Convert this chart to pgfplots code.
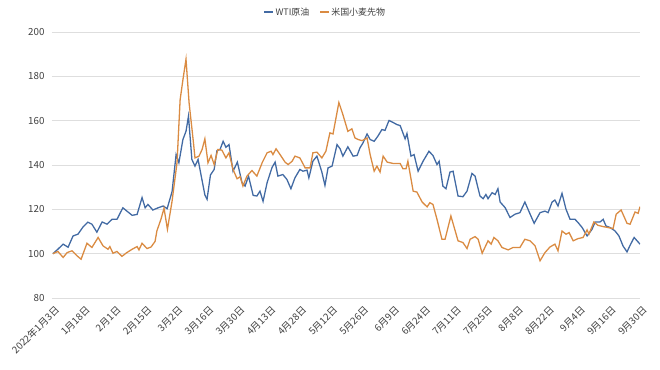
\documentclass[border=0pt]{standalone}
\usepackage{pgfplots}
\pgfplotsset{compat=1.18}
\usepackage{fontspec}
\setmainfont{Noto Sans CJK JP}
\definecolor{wti}{RGB}{66,106,163}
\definecolor{wheat}{RGB}{218,139,66}
\definecolor{lbl}{RGB}{64,64,64}
\definecolor{grd}{RGB}{222,222,222}
\begin{document}
\begin{tikzpicture}
\useasboundingbox (-52bp,-72bp) rectangle (608bp,298bp);
\begin{axis}[
  at={(0,0)}, anchor=south west,
  width=588bp, height=266bp, scale only axis,
  xmin=0, xmax=190, ymin=80, ymax=200,
  ytick={80,100,...,200},
  xtick={0,10,...,190},
  xticklabels={2022年1月3日,1月18日,2月1日,2月15日,3月2日,3月16日,3月30日,4月13日,4月28日,5月12日,5月26日,6月9日,6月24日,7月11日,7月25日,8月8日,8月22日,9月4日,9月16日,9月30日},
  x tick label style={rotate=45, anchor=north east, font=\fontsize{9.8}{11}\selectfont, text=lbl, yshift=-3bp},
  y tick label style={font=\fontsize{9.8}{11}\selectfont, text=lbl, xshift=-4bp},
  /pgf/number format/assume math mode=true,
  axis line style={draw=none},
  major tick style={draw=none},
  ymajorgrids, grid style={grd, line width=0.8pt},
  legend style={at={(0.465,1.075)}, anchor=center, draw=none, fill=none, font=\fontsize{9}{10}\selectfont, text=lbl, legend columns=2, /tikz/every even column/.append style={column sep=8bp}},
  legend image code/.code={\draw[#1, line width=1.4pt] (0,0) -- (0.3cm,0);},
]
\addplot[wti, line width=1.3pt] coordinates {
(0.3,100)(1.9,102)(3.6,104.3)(5.2,102.9)(6.8,108)(8.4,108.8)(10.0,112)(11.6,114.2)(12.9,113.3)(14.5,109.7)
(16.2,114.3)(17.8,113.3)(19.4,115.5)(21.0,115.5)(22.9,120.7)(24.2,119.2)(25.9,117.3)(27.5,117.7)(29.1,125.3)(30.1,120.7)
(31.0,122.2)(32.6,119.7)(34.3,120.7)(35.9,121.5)(37.2,120.3)(38.8,128)(40.1,144.7)(41.0,141)(42.3,151.5)(43.3,155.2)
(44.1,162)(45.2,142.5)(46.2,139.5)(47.2,142.5)(48.5,133)(49.4,126.5)(50.1,124.5)(51.2,135.5)(52.4,138)(53.3,146.5)
(54.3,147)(55.3,150.7)(56.2,148)(57.2,149.2)(58.5,137.2)(59.9,141.3)(61.4,132)(62.4,130.5)(63.5,135)(65.0,126.3)
(66.2,126)(67.2,128.2)(68.2,123.6)(69.5,132)(71.1,138.9)(72.1,141.3)(73.0,135)(74.6,135.7)(75.9,133.5)(77.2,129.3)
(78.5,134.2)(80.1,138)(81.1,137.2)(82.4,137.7)(83.0,134.2)(84.3,141.7)(85.6,144)(87.2,136.8)(88.2,130.8)(89.2,138.7)
(90.5,139.5)(92.1,149.2)(93.1,147.3)(94.0,144)(95.6,148.2)(97.3,144)(98.6,144.3)(99.5,147.7)(100.5,150)(101.8,154)
(102.8,151.5)(104.1,150.7)(105.3,153)(106.6,156)(107.6,155.6)(108.9,160.1)(110.2,159.2)(111.5,158.2)(112.5,157.8)(114.1,151.8)
(114.7,154.2)(116.0,144)(117.0,144.7)(118.3,137.2)(119.9,141.7)(121.8,146.2)(123.1,144.3)(124.4,140.2)(125.1,141.7)(126.3,130.5)
(127.3,129.3)(128.6,136.8)(129.6,137.2)(131.2,126)(132.8,125.7)(134.1,128.2)(135.7,136.2)(136.7,135)(138.3,126)(139.3,124.8)
(140.2,126.7)(140.9,124.8)(142.2,127.5)(143.2,126.7)(144.1,129.3)(144.8,123.3)(146.4,120.8)(148.0,116.3)(149.6,117.8)(151.2,118.5)
(152.8,123.3)(154.5,117.8)(155.8,113.7)(157.7,118.5)(159.3,119.2)(160.3,118.5)(161.6,123.3)(162.5,124.2)(163.5,121.5)(164.8,127.2)
(166.1,120)(167.4,115.5)(169.0,115.5)(170.0,114)(171.3,111.8)(172.9,108)(174.5,111)(175.5,114.3)(177.1,114.3)(178.1,115.5)
(179.0,112.5)(180.3,111.8)(181.9,110.3)(183.2,108)(184.5,103.5)(185.8,100.8)(186.8,103.8)(188.1,107.3)(190.0,104.3)
};
\addlegendentry{WTI原油}
\addplot[wheat, line width=1.3pt] coordinates {
(0.3,100)(1.9,101)(3.6,98.3)(4.9,100.5)(6.5,101.3)(8.1,99)(9.4,97.5)(11.3,104.7)(12.9,102.8)(14.9,107.3)
(16.5,103.5)(18.1,102)(18.7,103.2)(19.7,100.2)(21.0,101)(22.6,98.8)(24.2,100.5)(25.9,102)(27.5,103.2)(28.1,101.7)
(29.1,104.7)(30.7,102.3)(32.0,103)(33.3,105.5)(33.9,110.3)(35.2,115.5)(36.2,120.5)(37.3,111)(38.8,123.7)(40.4,141)
(41.4,169.4)(42.3,178.4)(43.3,187.7)(44.3,168)(45.6,151.5)(46.2,143.2)(47.5,144)(48.5,147)(49.4,151.8)(50.4,141)
(51.4,144.3)(52.4,140.2)(53.6,147)(54.9,146.7)(56.2,143.2)(57.2,145.5)(58.5,138)(59.8,133.8)(60.8,134.7)(61.7,130.5)
(63.0,135)(64.6,137.5)(66.2,135)(67.9,141)(69.5,145.5)(70.8,146.2)(71.4,144.7)(72.4,147.3)(73.7,144.7)(75.3,141.3)
(76.3,140.2)(77.6,141.7)(78.5,144)(80.1,143.2)(81.8,138.7)(83.4,138.7)(84.3,145.5)(85.6,145.8)(87.2,143.2)(88.5,146.2)
(89.8,154.5)(90.8,154)(92.7,168.2)(94.0,162.7)(95.6,155.2)(96.9,156.3)(97.9,152.2)(98.9,151.5)(100.2,151)(101.8,152.2)
(102.8,144.7)(104.1,137.2)(105.0,139.5)(106.0,136.8)(107.0,144)(108.3,141.3)(110.2,140.7)(112.5,140.7)(113.4,138.3)(114.4,138.3)
(115.0,141.7)(116.7,128.2)(117.9,127.8)(119.6,123.3)(121.2,121.1)(122.1,123)(123.1,122.2)(124.4,115.5)(126.0,106.5)(127.0,106.5)
(128.9,117)(131.2,105.8)(132.8,105)(134.1,102.3)(135.1,106.5)(136.7,107.7)(137.7,106.5)(139.0,100.2)(140.9,105.8)(141.9,104.3)
(142.8,107.3)(144.1,105.8)(145.4,102.8)(147.4,101.7)(149.0,102.8)(151.2,102.8)(152.8,106.5)(154.5,105.8)(156.1,103.5)(157.7,96.8)
(159.3,100.5)(160.9,103)(162.5,104.3)(163.5,101.3)(164.8,110.2)(166.1,108.8)(167.1,109.5)(168.4,105.8)(170.0,106.8)(171.6,107.3)
(172.9,110.7)(173.5,108.8)(175.1,114.3)(176.4,112.8)(178.1,112.2)(179.7,111.8)(181.3,111.3)(182.3,117.8)(183.9,119.7)(185.8,113.7)
(186.8,113.3)(188.4,118.8)(189.4,118.2)(190.0,121.2)
};
\addlegendentry{米国小麦先物}
\end{axis}
\end{tikzpicture}
\end{document}
